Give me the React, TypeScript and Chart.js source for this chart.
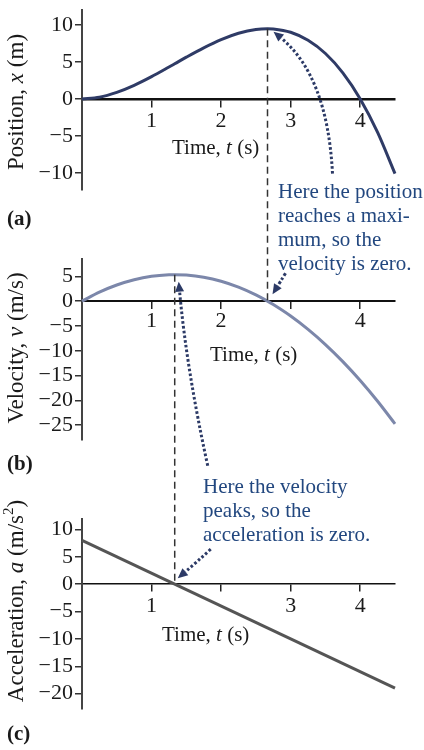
import { useEffect, useRef } from "react";
import { Chart, registerables } from "chart.js";

Chart.register(...registerables);

// Sampled motion of the particle: t in seconds
const times = [0, 0.25, 0.5, 0.75, 1, 1.25, 1.333, 1.5, 1.75, 2, 2.25, 2.5, 2.667, 2.75, 3, 3.25, 3.5, 3.75, 4, 4.25, 4.5];
const positionM = [0, 0.23, 0.88, 1.83, 3, 4.3, 4.74, 5.63, 6.89, 8, 8.86, 9.38, 9.48, 9.45, 9, 7.92, 6.13, 3.52, 0, -4.52, -10.1];
const velocityMs = [0, 1.81, 3.25, 4.31, 5, 5.31, 5.33, 5.25, 4.81, 4, 2.81, 1.25, 0, -0.69, -3, -5.69, -8.75, -12.19, -16, -20.19, -24.75];
const accelTimes = [0, 4.5];
const accelMs2 = [8, -19];

// Turning points: velocity peak and position maximum
const peakTimes = [1.333, 2.667];
const peakValues = [5.33, 9.48];

// Axis ticks
const timeTicks = [1, 2, 3, 4];
const timeLabelsA = ["1", "2", "3", "4"];
const timeLabelsB = ["1", "2", "", "4"];
const timeLabelsC = ["1", "", "3", "4"];
const positionTicks = [-10, -5, 0, 5, 10];
const velocityTicks = [-25, -20, -15, -10, -5, 0, 5];
const accelTicks = [-20, -15, -10, -5, 0, 5, 10];

const FAMILY = "'Liberation Serif', 'DejaVu Serif', 'Times New Roman', serif";
const NAVY = "#22477f";
const DOTS = "#2c3a66";
const W = 424;
const H = 750;

type Seg = { s: string; i?: boolean; sup?: boolean; b?: boolean };

function drawRich(ctx: CanvasRenderingContext2D, segs: Seg[], x: number, y: number, size: number, color: string, align: "left" | "center") {
  const fontFor = (g: Seg) =>
    `${g.i ? "italic " : ""}${g.b ? "bold " : ""}${g.sup ? Math.round(size * 0.65) : size}px ${FAMILY}`;
  let w = 0;
  for (const g of segs) {
    ctx.font = fontFor(g);
    w += ctx.measureText(g.s).width;
  }
  let cx = align === "center" ? x - w / 2 : x;
  ctx.fillStyle = color;
  ctx.textAlign = "left";
  ctx.textBaseline = "middle";
  for (const g of segs) {
    ctx.font = fontFor(g);
    ctx.fillText(g.s, cx, g.sup ? y - size * 0.35 : y);
    cx += ctx.measureText(g.s).width;
  }
}

function dottedArrow(ctx: CanvasRenderingContext2D, p0: number[], c: number[], tip: number[]) {
  const ang = Math.atan2(tip[1] - c[1], tip[0] - c[0]);
  const L = 10;
  const HW = 4.5;
  const bx = tip[0] - Math.cos(ang) * L;
  const by = tip[1] - Math.sin(ang) * L;
  ctx.save();
  ctx.strokeStyle = DOTS;
  ctx.lineWidth = 3;
  ctx.setLineDash([2.6, 2.2]);
  ctx.beginPath();
  ctx.moveTo(p0[0], p0[1]);
  ctx.quadraticCurveTo(c[0], c[1], bx, by);
  ctx.stroke();
  ctx.setLineDash([]);
  ctx.fillStyle = DOTS;
  ctx.beginPath();
  ctx.moveTo(tip[0], tip[1]);
  ctx.lineTo(bx - Math.sin(ang) * HW, by + Math.cos(ang) * HW);
  ctx.lineTo(bx + Math.sin(ang) * HW, by - Math.cos(ang) * HW);
  ctx.closePath();
  ctx.fill();
  ctx.restore();
}

function dashedVertical(ctx: CanvasRenderingContext2D, x: number, y0: number, y1: number) {
  ctx.save();
  ctx.strokeStyle = "#333";
  ctx.lineWidth = 1.5;
  ctx.setLineDash([7, 4.5]);
  ctx.beginPath();
  ctx.moveTo(x, y0);
  ctx.lineTo(x, y1);
  ctx.stroke();
  ctx.restore();
}

type PanelSpec = {
  xs: number[];
  ys: number[];
  color: string;
  lineWidth: number;
  yMin: number;
  yMax: number;
  yTicks: number[];
  xLabels: string[];
  xBorder: number;
  xPad: number;
  top: number;
  bottom: number;
  yTitle: Seg[];
  yTitleCy: number;
  xTitle: Seg[];
  xTitleLeft: number;
  xTitleCy: number;
  tag: string;
  tagCy: number;
};

function panelConfig(p: PanelSpec): any {
  const tickFont = { family: FAMILY, size: 22 };
  return {
    type: "line",
    data: {
      datasets: [
        {
          data: p.xs.map((t, i) => ({ x: t, y: p.ys[i] })),
          borderColor: p.color,
          borderWidth: p.lineWidth,
          pointRadius: 0,
          fill: false,
          cubicInterpolationMode: "monotone",
          clip: false,
        },
      ],
    },
    options: {
      responsive: false,
      animation: false,
      events: [],
      layout: { padding: { top: p.top, bottom: H - p.bottom, left: 0, right: 29 } },
      plugins: { legend: { display: false }, tooltip: { enabled: false } },
      scales: {
        x: {
          type: "linear",
          min: 0,
          max: 4.5,
          position: { y: 0 },
          grid: { drawOnChartArea: false, drawTicks: true, tickLength: 7, color: "#222", lineWidth: 1.5 },
          border: { display: true, color: "#111", width: p.xBorder },
          ticks: {
            font: tickFont,
            color: "#1a1a1a",
            padding: p.xPad,
            maxRotation: 0,
            autoSkip: false,
            callback: (_v: any, i: number) => p.xLabels[i],
          },
          afterBuildTicks: (s: any) => {
            s.ticks = timeTicks.map((v) => ({ value: v }));
          },
          afterFit: (s: any) => {
            s.paddingLeft = 0;
            s.paddingRight = 0;
          },
        },
        y: {
          type: "linear",
          min: p.yMin,
          max: p.yMax,
          position: "left",
          grid: { drawOnChartArea: false, drawTicks: true, tickLength: 7, color: "#333", lineWidth: 1.5 },
          border: { display: true, color: "#444", width: 2 },
          ticks: {
            font: tickFont,
            color: "#1a1a1a",
            padding: 2,
            callback: (v: number) => String(v).replace("-", "\u2212"),
          },
          afterBuildTicks: (s: any) => {
            s.ticks = p.yTicks.map((v) => ({ value: v }));
          },
          afterFit: (s: any) => {
            s.width = 82;
            s.paddingTop = 0;
            s.paddingBottom = 0;
          },
        },
      },
    },
    plugins: [
      {
        id: "panelText",
        afterDraw(chart: any) {
          const ctx = chart.ctx as CanvasRenderingContext2D;
          ctx.save();
          ctx.translate(17, p.yTitleCy);
          ctx.rotate(-Math.PI / 2);
          drawRich(ctx, p.yTitle, 0, 0, 23, "#1a1a1a", "center");
          ctx.restore();
          drawRich(ctx, p.xTitle, p.xTitleLeft, p.xTitleCy, 21, "#1a1a1a", "left");
          drawRich(ctx, [{ s: p.tag, b: true }], 7, p.tagCy, 21, "#1a1a1a", "left");
        },
      },
    ],
  };
}

const timeTitle: Seg[] = [{ s: "Time, " }, { s: "t", i: true }, { s: " (s)" }];

export default function App() {
  const refA = useRef<HTMLCanvasElement>(null);
  const refB = useRef<HTMLCanvasElement>(null);
  const refC = useRef<HTMLCanvasElement>(null);

  useEffect(() => {
    const chartA = new Chart(
      refA.current!,
      panelConfig({
        xs: times,
        ys: positionM,
        color: "#2f3b66",
        lineWidth: 3,
        yMin: -12.3,
        yMax: 12,
        yTicks: positionTicks,
        xLabels: timeLabelsA,
        xBorder: 2.5,
        xPad: 2,
        top: 10,
        bottom: 190,
        yTitle: [{ s: "Position, " }, { s: "x", i: true }, { s: " (m)" }],
        yTitleCy: 102,
        xTitle: timeTitle,
        xTitleLeft: 172,
        xTitleCy: 148,
        tag: "(a)",
        tagCy: 220,
      })
    );
    const chartB = new Chart(
      refB.current!,
      panelConfig({
        xs: times,
        ys: velocityMs,
        color: "#7c87aa",
        lineWidth: 3,
        yMin: -28,
        yMax: 8.5,
        yTicks: velocityTicks,
        xLabels: timeLabelsB,
        xBorder: 2,
        xPad: 0,
        top: 259,
        bottom: 440,
        yTitle: [{ s: "Velocity, " }, { s: "v", i: true }, { s: " (m/s)" }],
        yTitleCy: 348,
        xTitle: timeTitle,
        xTitleLeft: 210,
        xTitleCy: 355,
        tag: "(b)",
        tagCy: 465,
      })
    );

    const overlay = {
      id: "guides",
      afterDraw(chart: any) {
        const ctx = chart.ctx as CanvasRenderingContext2D;
        const xA = chartA.scales.x;
        const yA = chartA.scales.y;
        const xB = chartB.scales.x;
        const yB = chartB.scales.y;
        const yC = chart.scales.y;

        // Position maximum -> velocity zero
        const px = xA.getPixelForValue(peakTimes[1]);
        const pTop = yA.getPixelForValue(peakValues[1]);
        const pBot = yB.getPixelForValue(0);
        dashedVertical(ctx, px, pTop, pBot);

        // Velocity peak -> acceleration zero
        const qx = xB.getPixelForValue(peakTimes[0]);
        const qTop = yB.getPixelForValue(peakValues[0]);
        const qBot = yC.getPixelForValue(0);
        dashedVertical(ctx, qx, qTop, qBot);

        dottedArrow(ctx, [px + 65, pTop + 145], [px + 60, pTop + 48], [px + 6, pTop + 3]);
        dottedArrow(ctx, [px + 18, pBot - 28], [px + 12, pBot - 18], [px + 5, pBot - 7]);
        dottedArrow(ctx, [qx + 33, qTop + 191], [qx + 12, qTop + 95], [qx + 4, qTop + 7]);
        dottedArrow(ctx, [qx + 36, qBot - 35], [qx + 22, qBot - 22], [qx + 3, qBot - 6]);

        const note1 = ["Here the position", "reaches a maxi-", "mum, so the", "velocity is zero."];
        note1.forEach((line, i) => drawRich(ctx, [{ s: line }], 278, 192 + i * 24, 21, NAVY, "left"));
        const note2 = ["Here the velocity", "peaks, so the", "acceleration is zero."];
        note2.forEach((line, i) => drawRich(ctx, [{ s: line }], 203, 487 + i * 24, 21, NAVY, "left"));
      },
    };

    const cfgC = panelConfig({
      xs: accelTimes,
      ys: accelMs2,
      color: "#555555",
      lineWidth: 3,
      yMin: -22.8,
      yMax: 11.9,
      yTicks: accelTicks,
      xLabels: timeLabelsC,
      xBorder: 1.5,
      xPad: 2,
      top: 519,
      bottom: 709,
      yTitle: [{ s: "Acceleration, " }, { s: "a", i: true }, { s: " (m/s" }, { s: "2", sup: true }, { s: ")" }],
      yTitleCy: 601,
      xTitle: timeTitle,
      xTitleLeft: 162,
      xTitleCy: 635,
      tag: "(c)",
      tagCy: 735,
    });
    cfgC.plugins.push(overlay);
    const chartC = new Chart(refC.current!, cfgC);

    return () => {
      chartC.destroy();
      chartB.destroy();
      chartA.destroy();
    };
  }, []);

  const style: React.CSSProperties = { position: "absolute", left: 0, top: 0, width: W, height: H };
  return (
    <div style={{ position: "absolute", left: 0, top: 0, width: W, height: H, background: "#fff" }}>
      <canvas ref={refA} width={W} height={H} style={style} />
      <canvas ref={refB} width={W} height={H} style={style} />
      <canvas ref={refC} width={W} height={H} style={style} />
    </div>
  );
}
